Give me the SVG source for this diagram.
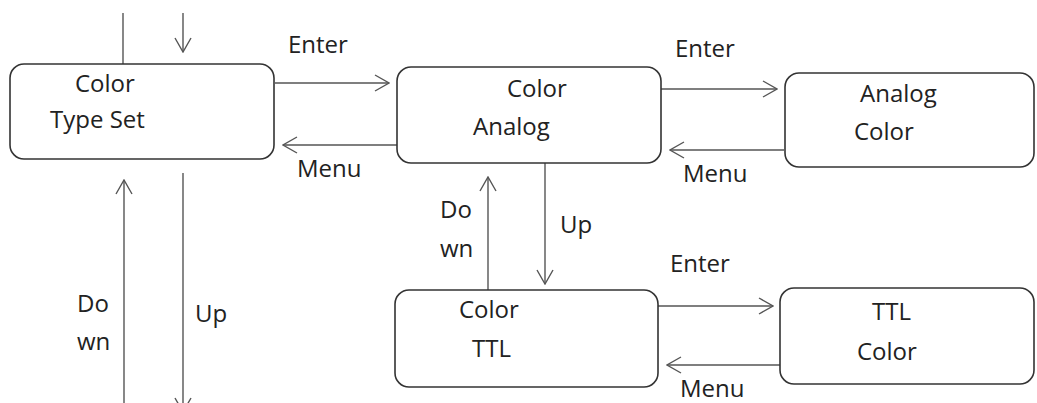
<svg xmlns="http://www.w3.org/2000/svg" width="1037" height="403" viewBox="0 0 1037 403">
<style>
.box{fill:#fff;stroke:#333;stroke-width:1.6}
.t{font-family:"Open Sans","Liberation Sans",sans-serif;font-size:24px;fill:#222}
.c{fill:none;stroke:#555;stroke-width:1.4}
</style>
<defs>
<marker id="ah" viewBox="0 0 16 18" refX="15" refY="9" markerWidth="16" markerHeight="18" orient="auto" markerUnits="userSpaceOnUse">
<path d="M1,1 L15,9 L1,17" fill="none" stroke="#555" stroke-width="1.4"/>
</marker>
</defs>
<rect width="1037" height="403" fill="#fff"/>
<g id="connectors">
<line class="c" x1="123" y1="13" x2="123" y2="64"/>
<line class="c" x1="183" y1="13" x2="183" y2="52" marker-end="url(#ah)"/>
<line class="c" x1="124" y1="403" x2="124" y2="180" marker-end="url(#ah)"/>
<line class="c" x1="183" y1="173" x2="183" y2="412" marker-end="url(#ah)"/>
<line class="c" x1="275" y1="83" x2="389" y2="83" marker-end="url(#ah)"/>
<line class="c" x1="397" y1="145" x2="283" y2="145" marker-end="url(#ah)"/>
<line class="c" x1="661" y1="89" x2="777" y2="89" marker-end="url(#ah)"/>
<line class="c" x1="784" y1="150" x2="670" y2="150" marker-end="url(#ah)"/>
<line class="c" x1="545" y1="163" x2="545" y2="284" marker-end="url(#ah)"/>
<line class="c" x1="488" y1="290" x2="488" y2="177" marker-end="url(#ah)"/>
<line class="c" x1="658" y1="306" x2="773" y2="306" marker-end="url(#ah)"/>
<line class="c" x1="780" y1="365" x2="667" y2="365" marker-end="url(#ah)"/>
<text class="t" x="288" y="53">Enter</text>
<text class="t" x="297" y="177">Menu</text>
<text class="t" x="675" y="57">Enter</text>
<text class="t" x="683" y="182">Menu</text>
<text class="t" x="440" y="218">Do</text>
<text class="t" x="440" y="257">wn</text>
<text class="t" x="560" y="233">Up</text>
<text class="t" x="670" y="272">Enter</text>
<text class="t" x="680" y="397">Menu</text>
<text class="t" x="77" y="312">Do</text>
<text class="t" x="77" y="350">wn</text>
<text class="t" x="195" y="322">Up</text>
</g>
<g id="node-typeset">
<rect class="box" x="10" y="64" width="264" height="95" rx="14"/>
<text class="t" x="75" y="92">Color</text>
<text class="t" x="50" y="128">Type Set</text>
</g>
<g id="node-analog">
<rect class="box" x="397" y="67" width="264" height="96" rx="14"/>
<text class="t" x="507" y="97">Color</text>
<text class="t" x="473" y="135">Analog</text>
</g>
<g id="node-analog-color">
<rect class="box" x="785" y="73" width="249" height="94" rx="14"/>
<text class="t" x="860" y="102">Analog</text>
<text class="t" x="854" y="140">Color</text>
</g>
<g id="node-ttl">
<rect class="box" x="395" y="290" width="263" height="97" rx="14"/>
<text class="t" x="459" y="318">Color</text>
<text class="t" x="472" y="357">TTL</text>
</g>
<g id="node-ttl-color">
<rect class="box" x="780" y="288" width="254" height="96" rx="14"/>
<text class="t" x="872" y="320">TTL</text>
<text class="t" x="857" y="360">Color</text>
</g>
</svg>
